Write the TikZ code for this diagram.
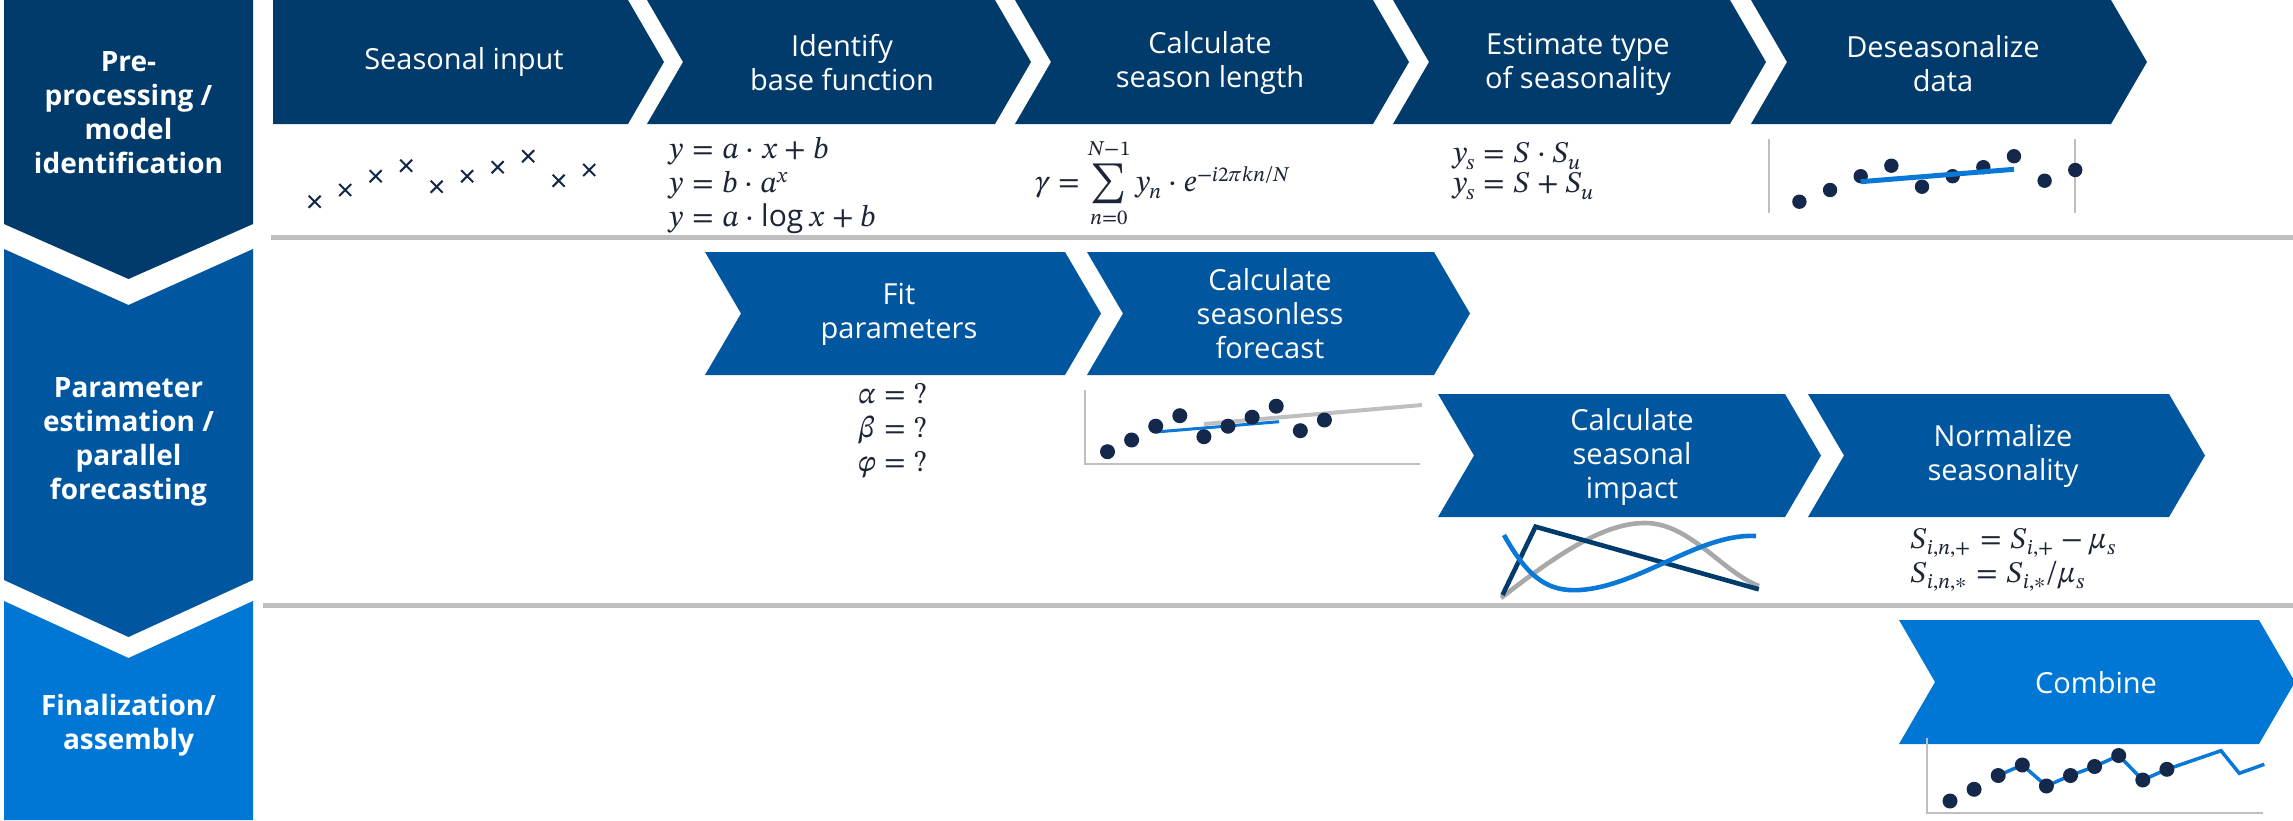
\documentclass[tikz,border=0pt]{standalone}
\usepackage{fontspec}
\usepackage{unicode-math}
\setmainfont{Open Sans}
\IfFontExistsTF{STIX Two Math}{\setmathfont{STIX Two Math}}{\setmathfont{Latin Modern Math}}
\definecolor{navy}{HTML}{003B6B}
\definecolor{midblue}{HTML}{0057A0}
\definecolor{brightblue}{HTML}{0077D4}
\definecolor{dotcol}{HTML}{13284A}
\definecolor{sepgray}{HTML}{BFBFBF}
\definecolor{curvegray}{HTML}{A8A8A8}
\definecolor{lineblue}{HTML}{0A78D7}
\definecolor{ink}{HTML}{1B2536}
% #1 colour, #2 left x, #3 top y, #4 right-top x, #5 height, #6 notch (1/0)
\newcommand\chevshape[6]{%
  \fill[#1] (#2,#3) -- (#4,#3) -- ({#4+36},{#3+#5/2}) -- (#4,{#3+#5}) -- (#2,{#3+#5}) -- ({#2+36*#6},{#3+#5/2}) -- cycle;}
\begin{document}
\begin{tikzpicture}[x=0.5pt,y=-0.5pt,
  steptext/.style={text=white, align=center, font=\fontsize{14.5}{17}\selectfont, inner sep=0pt},
  phasetext/.style={text=white, align=center, font=\bfseries\fontsize{14}{17}\selectfont, inner sep=0pt},
  formula/.style={text=ink, align=left, font=\fontsize{15}{17}\selectfont, inner sep=0pt},
  sep/.style={sepgray, line width=2.5pt},
  axis/.style={sepgray, line width=1pt},
  dot/.style={fill=dotcol}]
\useasboundingbox (0,0) rectangle (2293,820);

% ---------- phase column ----------
\fill[navy] (4,0) -- (253,0) -- (253,224) -- (128.5,279) -- (4,224) -- cycle;
\fill[midblue] (4,249) -- (128.5,305) -- (253,249) -- (253,580) -- (128.5,637) -- (4,580) -- cycle;
\fill[brightblue] (4,601) -- (128.5,658) -- (253,601) -- (253,820) -- (4,820) -- cycle;
\node[phasetext] (ph1) at (128.5,113) {Pre-\\processing /\\model\\identification};
\node[phasetext] (ph2) at (128.5,442) {Parameter\\estimation /\\parallel\\forecasting};
\node[phasetext] (ph3) at (128.5,725) {Finalization/\\assembly};

% ---------- separators ----------
\draw[sep] (271,237) -- (2293,237);
\draw[sep] (263,605) -- (2293,605);

% ---------- row 1 chevrons ----------
\chevshape{navy}{273}{0}{628}{124}{0}
\chevshape{navy}{647}{0}{995}{124}{1}
\chevshape{navy}{1015}{0}{1373}{124}{1}
\chevshape{navy}{1393}{0}{1730}{124}{1}
\chevshape{navy}{1751}{0}{2111}{124}{1}
\node[steptext] (s1) at (464,62) {Seasonal input};
\node[steptext] (s2) at (842,63) {Identify\\base function};
\node[steptext] (s3) at (1210,63) {Calculate\\season length};
\node[steptext] (s4) at (1578,64) {Estimate type\\of seasonality};
\node[steptext] (s5) at (1943,64) {Deseasonalize\\data};

% ---------- row 2 chevrons ----------
\chevshape{midblue}{705}{252}{1065}{123}{1}
\chevshape{midblue}{1087}{252}{1434}{123}{1}
\chevshape{midblue}{1438}{394}{1785}{123}{1}
\chevshape{midblue}{1808}{394}{2169}{123}{1}
\node[steptext] (p1) at (899,314) {Fit\\parameters};
\node[steptext] (p2) at (1270,314) {Calculate\\seasonless\\forecast};
\node[steptext] (p3) at (1632,457) {Calculate\\seasonal\\impact};
\node[steptext] (p4) at (2003,456) {Normalize\\seasonality};

% ---------- row 3 chevron ----------
\chevshape{brightblue}{1899}{620}{2259}{124}{1}
\node[steptext] (f1) at (2096,683) {Combine};

% ---------- formulas ----------
\node[formula, anchor=west] (fa) at (668,186) {$y=a\cdot x+b$\\$y=b\cdot a^{x}$\\$y=a\cdot\log x+b$};
\node[formula] (fb) at (1163,183) {$\gamma=\displaystyle\sum_{n=0}^{N-1}y_n\cdot e^{-i2\pi kn/N}$};
\node[formula, anchor=west, font=\fontsize{15}{15}\selectfont] (fc) at (1452,171) {$y_s=S\cdot S_u$\\$y_s=S+S_u$};
\node[formula, anchor=west] (fd) at (858,431) {$\alpha=?$\\$\beta=?$\\$\varphi=?$};
\node[formula, anchor=west] (fe) at (1910,560) {$S_{i,n,+}=S_{i,+}-\mu_s$\\$S_{i,n,*}=S_{i,*}/\mu_s$};

% ---------- seasonal input crosses ----------
\foreach \k/\p in {0/0,1/-11.7,2/-25.5,3/-36,4/-15,5/-25.5,6/-34.5,7/-45.5,8/-21,9/-31.7}{
  \draw[dotcol, line width=1pt] ({314.7+30.5*\k-6},{201.7+\p-6}) -- ++(12,12)
        ({314.7+30.5*\k+6},{201.7+\p-6}) -- ++(-12,12);
}

% ---------- deseasonalize chart ----------
\draw[axis] (1769,139) -- (1769,213);
\draw[axis] (2075.4,139) -- (2075.4,213);
\foreach \k/\p in {0/0,1/-11.7,2/-25.5,3/-36,4/-15,5/-25.5,6/-34.5,7/-45.5,8/-21,9/-31.7}{
  \fill[dotcol] ({1799.4+30.65*\k},{201.7+\p}) circle (3.6pt);
}
\draw[lineblue, line width=2.5pt] (1860.6,181.7) -- (2014,169.3);

% ---------- seasonless forecast chart ----------
\draw[axis] (1085,390) -- (1085,464) -- (1420,464);
\draw[lineblue, line width=1.5pt] (1155.7,432) -- (1279,421.7);
\draw[sepgray, line width=2pt] (1204,424) -- (1422,405);
\foreach \k/\p in {0/0,1/-11.7,2/-25.5,3/-36,4/-15,5/-25.5,6/-34.5,7/-45.5,8/-21,9/-31.7}{
  \fill[dotcol] ({1107.5+24.1*\k},{451.7+\p}) circle (3.75pt);
}

% ---------- seasonal impact curves ----------
\draw[curvegray, line width=2.3pt] (1501,598) .. controls (1560,552) and (1605,523) .. (1645,523)
      .. controls (1690,523) and (1722,572) .. (1759,586);
\draw[navy, line width=2.3pt] (1502.5,595) -- (1535.5,526.7) -- (1758.8,589.3);
\draw[lineblue, line width=2.3pt] (1504,535) .. controls (1528,578) and (1548,592) .. (1580,590)
      .. controls (1640,586) and (1700,533) .. (1756,536);

% ---------- combine chart ----------
\draw[axis] (1927,738) -- (1927,813) -- (2263,813);
\draw[lineblue, line width=1.75pt] (1998.2,775.5) -- (2022.3,765) -- (2046.4,786) -- (2070.5,775.5) -- (2094.6,766.5) -- (2118.7,755.5) -- (2142.8,780) -- (2166.9,769.3) -- (2221,750.7) -- (2239.3,773.3) -- (2264.3,764.3);
\foreach \k/\p in {0/0,1/-11.7,2/-25.5,3/-36,4/-15,5/-25.5,6/-34.5,7/-45.5,8/-21,9/-31.7}{
  \fill[dotcol] ({1950+24.1*\k},{801+\p}) circle (3.75pt);
}
\end{tikzpicture}
\end{document}
